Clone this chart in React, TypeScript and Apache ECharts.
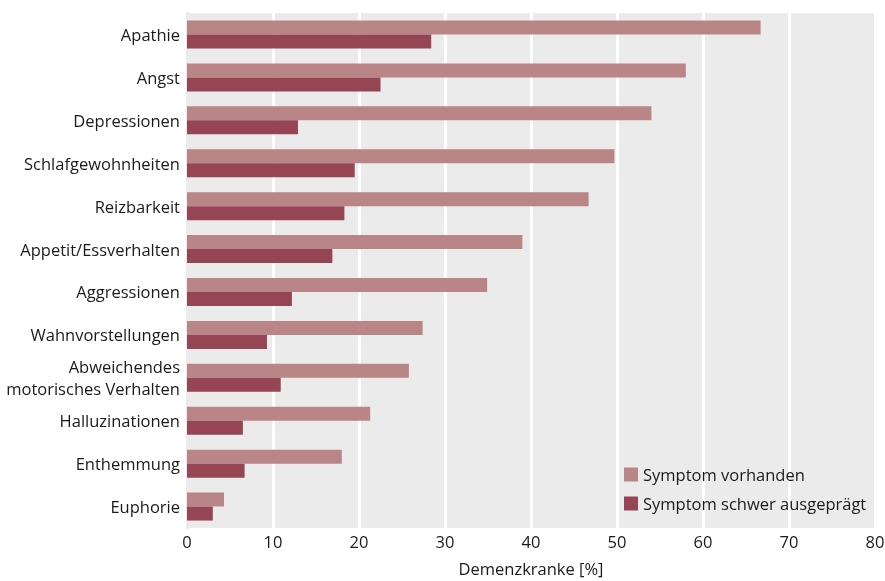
import React, { useEffect, useRef } from "react";
import * as echarts from "echarts";

const categories = [
  "Apathie",
  "Angst",
  "Depressionen",
  "Schlafgewohnheiten",
  "Reizbarkeit",
  "Appetit/Essverhalten",
  "Aggressionen",
  "Wahnvorstellungen",
  "Abweichendes\nmotorisches Verhalten",
  "Halluzinationen",
  "Enthemmung",
  "Euphorie",
];

const vorhanden = [66.7, 58.0, 54.0, 49.7, 46.7, 39.0, 34.9, 27.4, 25.8, 21.3, 18.0, 4.3];
const schwer = [28.4, 22.5, 12.9, 19.5, 18.3, 16.9, 12.2, 9.3, 10.9, 6.5, 6.7, 3.0];

const xTicks = { min: 0, max: 80, interval: 10 };

const FONT = "'Open Sans', sans-serif";
const TEXT = "#1a1a1a";
const SIZE = 16.5;

export default function App() {
  const ref = useRef<HTMLDivElement>(null);

  useEffect(() => {
    if (!ref.current) return;
    const chart = echarts.init(ref.current, undefined, { renderer: "svg" });
    // two-line labels sit a little higher than the band centre
    const yData = categories.map((c) =>
      c.includes("\n") ? { value: c, textStyle: { padding: [0, 0, 10, 0] } } : c
    );
    chart.setOption({
      animation: false,
      textStyle: { fontFamily: FONT },
      grid: {
        left: 187,
        right: 10,
        top: 13,
        bottom: 53,
        outerBoundsMode: "none",
        show: true,
        backgroundColor: "#ebebeb",
        borderWidth: 0,
      },
      legend: {
        orient: "vertical",
        left: 619,
        top: 461,
        itemWidth: 14,
        itemHeight: 14,
        itemGap: 12,
        icon: "rect",
        textStyle: { fontFamily: FONT, fontSize: SIZE, color: TEXT },
        data: ["Symptom vorhanden", "Symptom schwer ausgeprägt"],
      },
      xAxis: {
        type: "value",
        min: xTicks.min,
        max: xTicks.max,
        interval: xTicks.interval,
        name: "Demenzkranke [%]",
        nameLocation: "middle",
        nameGap: 32,
        nameTextStyle: { fontFamily: FONT, fontSize: SIZE, color: TEXT },
        axisLine: { show: false },
        axisTick: { show: false },
        axisLabel: { fontFamily: FONT, fontSize: SIZE, color: TEXT, margin: 5 },
        splitLine: { show: true, lineStyle: { color: "#ffffff", width: 3 } },
      },
      yAxis: {
        type: "category",
        inverse: true,
        data: yData,
        axisLine: { show: true, lineStyle: { color: "#ebebeb", width: 3 } },
        axisTick: { show: false },
        axisLabel: {
          fontFamily: FONT,
          fontSize: SIZE,
          color: TEXT,
          margin: 7,
          lineHeight: 22,
          align: "right",
        },
      },
      series: [
        {
          name: "Symptom vorhanden",
          type: "bar",
          data: vorhanden,
          barWidth: 14,
          barGap: "0%",
          itemStyle: { color: "#b98587" },
        },
        {
          name: "Symptom schwer ausgeprägt",
          type: "bar",
          data: schwer,
          barWidth: 14,
          barGap: "0%",
          itemStyle: { color: "#954553" },
        },
      ],
    });
    return () => chart.dispose();
  }, []);

  return (
    <div
      ref={ref}
      style={{ position: "fixed", left: 0, top: 0, width: 885, height: 581 }}
    />
  );
}
